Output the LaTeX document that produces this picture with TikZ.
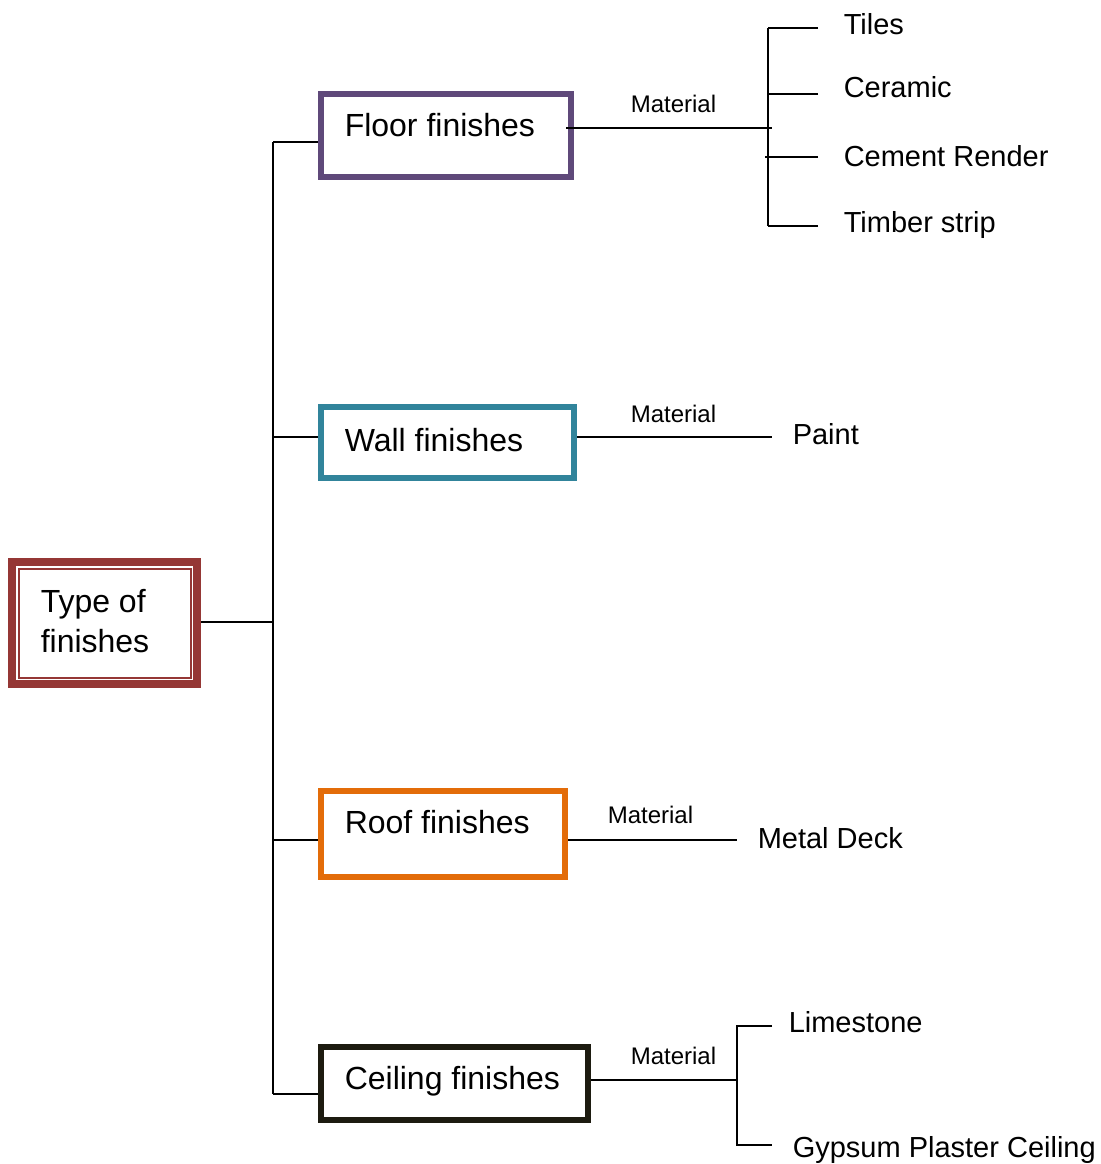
\documentclass[tikz,border=0pt]{standalone}
\usepackage{fontspec}
\setmainfont{Liberation Sans}
\definecolor{cfloor}{HTML}{5F497A}
\definecolor{cwall}{HTML}{31849B}
\definecolor{croof}{HTML}{E36C09}
\definecolor{cceil}{HTML}{1D1B10}
\definecolor{ctype}{HTML}{953735}
\begin{document}
\begin{tikzpicture}[x=1pt,y=-1pt,line width=1.5pt,
  boxshape/.style={draw,rectangle,line width=6pt,inner sep=0pt},
  boxtext/.style={anchor=base west,inner sep=0pt,font=\fontsize{32}{38}\selectfont},
  itemtext/.style={anchor=base west,inner sep=0pt,font=\fontsize{29}{34}\selectfont},
  mattext/.style={anchor=base west,inner sep=0pt,font=\fontsize{24}{28}\selectfont},
  conn/.style={line width=1.5pt,black}]
\useasboundingbox (0,0) rectangle (1100,1164);

% Type of finishes (double border)
\node[draw=ctype,line width=8pt,rectangle,inner sep=0pt,minimum width=185pt,minimum height=122pt] (type) at (104.5,623) {};
\node[draw=ctype,line width=2pt,rectangle,inner sep=0pt,minimum width=172pt,minimum height=109pt] (typein) at (104.5,623) {};
\node[boxtext] (typeT1) at (40,612) {Type of};
\node[boxtext] (typeT2) at (40,652) {finishes};

% category boxes
\node[boxshape,draw=cfloor,minimum width=249.5pt,minimum height=82.7pt] (floor) at (445.75,135.65) {};
\node[boxtext] (floorT) at (344,136) {Floor finishes};
\node[boxshape,draw=cwall,minimum width=253pt,minimum height=71pt] (wall) at (447.5,442.5) {};
\node[boxtext] (wallT) at (344,451) {Wall finishes};
\node[boxshape,draw=croof,minimum width=243.7pt,minimum height=86pt] (roof) at (443.15,833.7) {};
\node[boxtext] (roofT) at (344,833) {Roof finishes};
\node[boxshape,draw=cceil,minimum width=267pt,minimum height=73pt] (ceil) at (454.5,1083.5) {};
\node[boxtext] (ceilT) at (344,1089) {Ceiling finishes};

% trunk
\coordinate (tF) at (273,142);
\coordinate (tW) at (273,437);
\coordinate (tT) at (273,622);
\coordinate (tR) at (273,840);
\coordinate (tC) at (273,1094);
\draw[conn] (tF) -- (tC);
\draw[conn] (type.east |- tT) -- (tT);
\draw[conn] (tF) -- (tF -| floor.west);
\draw[conn] (tW) -- (tW -| wall.west);
\draw[conn] (tR) -- (tR -| roof.west);
\draw[conn] (tC) -- (tC -| ceil.west);

% floor materials
\coordinate (fo) at (566,128);
\coordinate (fb) at (772,128);
\node[mattext] (m1) at (630,112.5) {Material};
\draw[conn] (fo) -- (fb);
\coordinate (fv1) at (768,28);
\coordinate (fv4) at (768,226);
\draw[conn] (fv1) -- (fv4);
\coordinate (s1) at (818,28);
\coordinate (s2) at (818,94);
\coordinate (s3) at (818,157);
\coordinate (s4) at (818,226);
\draw[conn] (s1) -- (s1 -| fv1);
\draw[conn] (s2) -- (s2 -| fv1);
\draw[conn] (s3) -- ([xshift=-3pt]s3 -| fv1);
\draw[conn] (s4) -- (s4 -| fv1);
\node[itemtext] (tiles) at (843,34.5) {Tiles};
\node[itemtext] (ceram) at (843,97.5) {Ceramic};
\node[itemtext] (cement) at (843,166.5) {Cement Render};
\node[itemtext] (timber) at (843,232) {Timber strip};

% wall materials
\coordinate (wo) at (wall.east);
\coordinate (wb) at (772,437);
\node[mattext] (m2) at (630,422.5) {Material};
\draw[conn] (wo |- wb) -- (wb);
\node[itemtext] (paint) at (792,444) {Paint};

% roof materials
\coordinate (rb) at (737,840);
\node[mattext] (m3) at (607,823.5) {Material};
\draw[conn] (roof.east |- rb) -- (rb);
\node[itemtext] (metal) at (757,848.5) {Metal Deck};

% ceiling materials
\coordinate (cb) at (737,1080);
\node[mattext] (m4) at (630,1064.5) {Material};
\draw[conn] (ceil.east |- cb) -- (cb);
\coordinate (cv1) at (737,1026);
\coordinate (cv2) at (737,1145);
\coordinate (cs1) at (772,1026);
\coordinate (cs2) at (772,1145);
\draw[conn] (cs1) -- (cv1) -- (cv2) -- (cs2);
\node[itemtext] (lime) at (788,1032.5) {Limestone};
\node[itemtext] (gyp) at (792,1157) {Gypsum Plaster Ceiling};
\end{tikzpicture}
\end{document}
